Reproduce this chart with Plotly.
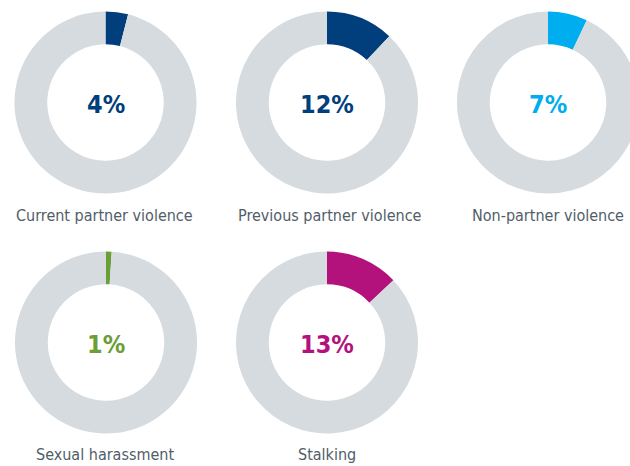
import plotly.graph_objects as go

categories = ["Current partner violence", "Previous partner violence", "Non-partner violence",
              "Sexual harassment", "Stalking"]
values = [4, 12, 7, 1, 13]
pct_labels = ["4%", "12%", "7%", "1%", "13%"]
colors = ["#003e7c", "#003e7c", "#00aeef", "#6a9e37", "#b3127d"]

W, H = 650, 466
RING = "#d6dbdf"
LABEL_COLOR = "#515d68"
FONT = "DejaVu Sans Condensed, sans-serif"

# centers in pixels and radius
centers = [(105.5, 102.5), (327, 102.5), (548, 102.5), (106, 342.5), (327, 342.5)]
label_x = [104.5, 330, 548, 105, 327]
label_y = [215, 215, 215, 454, 454]
R = 91

fig = go.Figure()
for i, (cat, v) in enumerate(zip(categories, values)):
    cx, cy = centers[i]
    fig.add_trace(go.Pie(
        values=[v, 100 - v],
        labels=[cat, "Rest"],
        sort=False,
        direction="clockwise",
        rotation=0,
        hole=0.64,
        marker=dict(colors=[colors[i], RING], line=dict(width=0)),
        textinfo="none",
        hoverinfo="label+percent",
        showlegend=False,
        domain=dict(x=[(cx - R) / W, (cx + R) / W], y=[1 - (cy + R) / H, 1 - (cy - R) / H]),
    ))
    fig.add_annotation(x=cx / W, y=1 - (cy + 2) / H, xref="paper", yref="paper",
                       text="<b>%s</b>" % pct_labels[i], showarrow=False,
                       font=dict(family=FONT, size=25, color=colors[i]),
                       xanchor="center", yanchor="middle")
    fig.add_annotation(x=label_x[i] / W, y=1 - label_y[i] / H, xref="paper", yref="paper",
                       text=cat, showarrow=False,
                       font=dict(family=FONT, size=16, color=LABEL_COLOR),
                       xanchor="center", yanchor="middle")

fig.update_layout(width=W, height=H, margin=dict(l=0, r=0, t=0, b=0),
                  paper_bgcolor="white", plot_bgcolor="white")

fig.write_html("out.html", config={"displayModeBar": False},
               post_script="document.body.style.margin='0';document.body.style.overflow='hidden';document.documentElement.style.overflow='hidden';")
